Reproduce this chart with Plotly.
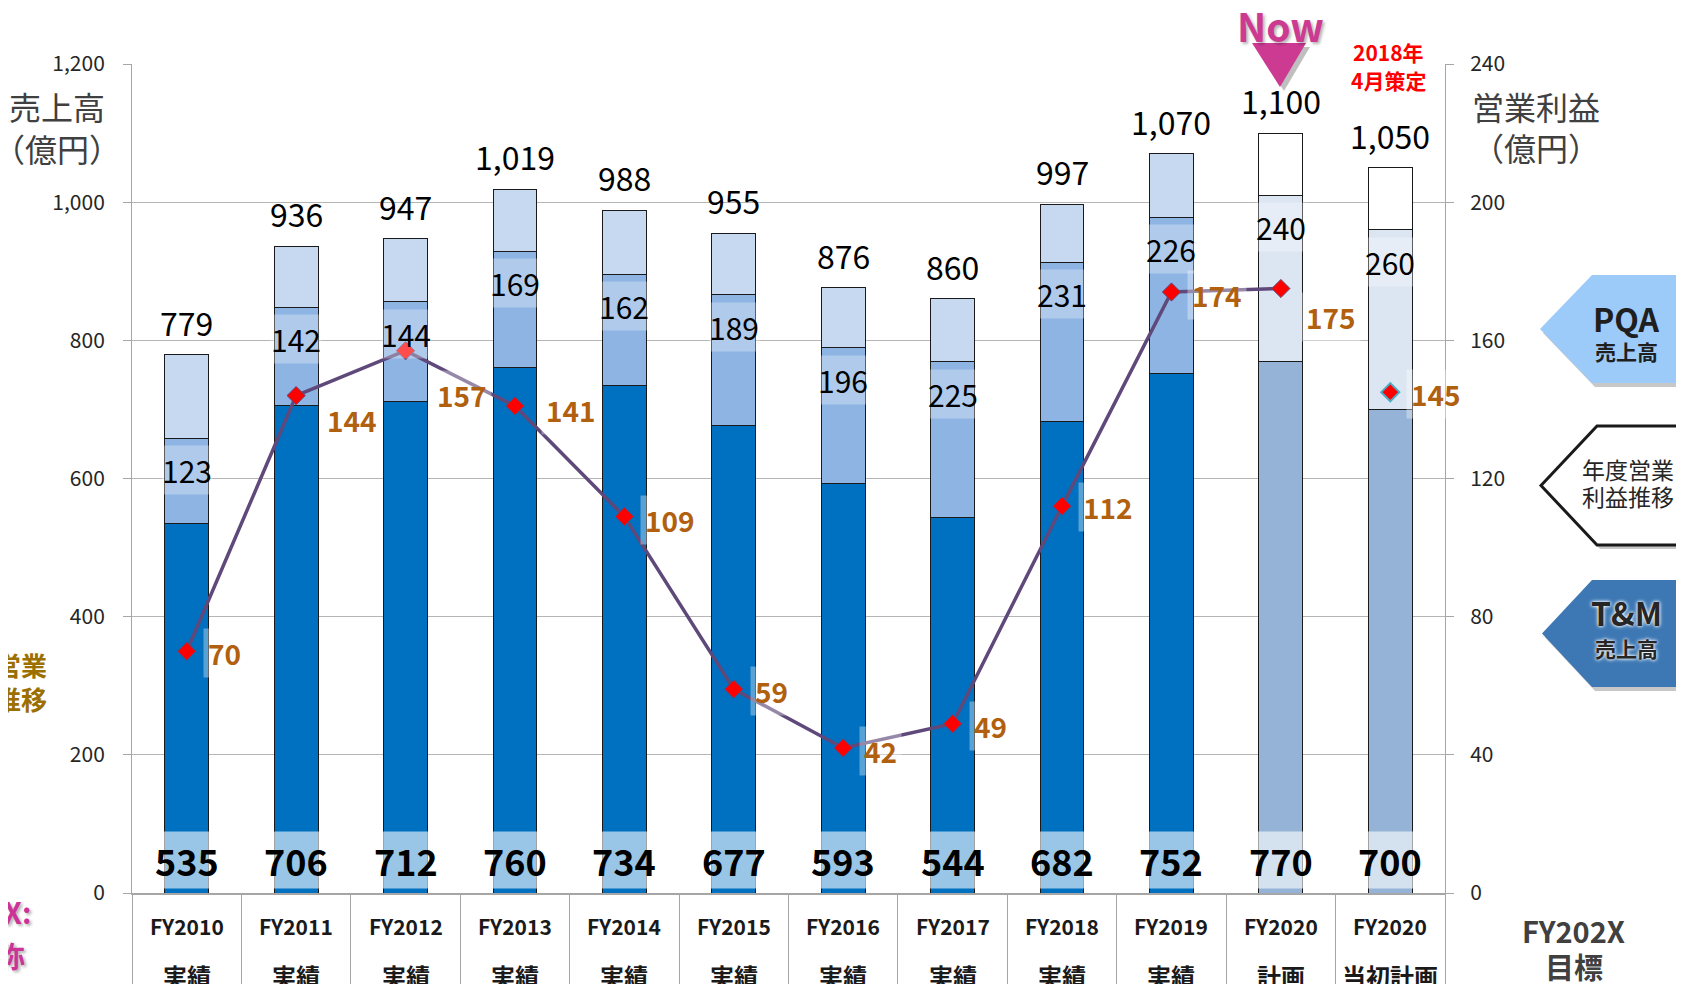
import plotly.graph_objects as go

# ---------------- data ----------------
years = ["FY2010", "FY2011", "FY2012", "FY2013", "FY2014", "FY2015",
         "FY2016", "FY2017", "FY2018", "FY2019", "FY2020", "FY2020"]
kinds = ["実績", "実績", "実績", "実績", "実績", "実績",
         "実績", "実績", "実績", "実績", "計画", "当初計画"]
tm_sales = [535, 706, 712, 760, 734, 677, 593, 544, 682, 752, 770, 700]
pqa_sales = [123, 142, 144, 169, 162, 189, 196, 225, 231, 226, 240, 260]
total_sales = [779, 936, 947, 1019, 988, 955, 876, 860, 997, 1070, 1100, 1050]
op_profit = [70, 144, 157, 141, 109, 59, 42, 49, 112, 174, 175]
op_profit_initial_plan = 145
left_ticks = [0, 200, 400, 600, 800, 1000, 1200]
right_ticks = [0, 40, 80, 120, 160, 200, 240]

# label offsets (style), per profit point: (xshift, yshift)
profit_label_shift = [(16, -2), (26, -24), (26, -44), (26, -4), (16, -3), (16, -2),
                      (16, -3), (16, -2), (16, -1), (16, -3), (20, -28)]

cats = [f"{y} {k}" for y, k in zip(years, kinds)]
other_sales = [t - a - b for t, a, b in zip(total_sales, tm_sales, pqa_sales)]
is_plan = [k != "実績" for k in kinds]

F = "Noto Sans CJK JP"
OFF = 8                      # page body margin
W, H = 1676, 976
L, R, T, B = 124, 239, 56, 91
PW, PH = W - L - R, H - T - B


def xp(px):                  # page pixel -> paper
    return (px - OFF - L) / PW


def yp(py):
    return (H - B - (py - OFF)) / PH


tm_colors = ["#95B3D7" if p else "#0070C0" for p in is_plan]
pqa_colors = ["#DCE6F2" if p else "#8EB4E3" for p in is_plan]
oth_colors = ["#FFFFFF" if p else "#C6D9F1" for p in is_plan]
outline = dict(color="#1A1A1A", width=1)

fig = go.Figure()
fig.add_bar(x=cats, y=tm_sales, marker=dict(color=tm_colors, line=outline), name="T&M")
fig.add_bar(x=cats, y=pqa_sales, marker=dict(color=pqa_colors, line=outline), name="PQA")
fig.add_bar(x=cats, y=other_sales, marker=dict(color=oth_colors, line=outline), name="その他")
fig.add_scatter(x=cats[:len(op_profit)], y=op_profit, yaxis="y2", mode="lines+markers",
                line=dict(color="#5F497A", width=3.5),
                marker=dict(symbol="diamond", size=14, color="#FF0000",
                            line=dict(color="#5F497A", width=1)),
                name="営業利益")
fig.add_scatter(x=[cats[-1]], y=[op_profit_initial_plan], yaxis="y2", mode="markers",
                marker=dict(symbol="diamond", size=14, color="#FF0000",
                            line=dict(color="#4BACC6", width=2)),
                name="当初計画")

ann = []
# totals above bars
for c, t in zip(cats, total_sales):
    ann.append(dict(x=c, y=t, xref="x", yref="y", text=f"{t:,}", showarrow=False,
                    xanchor="center", yanchor="middle", yshift=33,
                    font=dict(size=32, color="#000000", family=F)))
# PQA labels
for c, a, b in zip(cats, tm_sales, pqa_sales):
    ann.append(dict(x=c, y=a + b, xref="x", yref="y", text=f"{b}", showarrow=False,
                    xanchor="center", yanchor="middle", yshift=-32,
                    bgcolor="rgba(255,255,255,0.3)", height=48, borderpad=0,
                    font=dict(size=30, color="#000000", family=F)))
# T&M labels
for c, a in zip(cats, tm_sales):
    ann.append(dict(x=c, y=0, xref="x", yref="y", text=f"<b>{a}</b>", showarrow=False,
                    xanchor="center", yanchor="middle", yshift=33,
                    bgcolor="rgba(255,255,255,0.6)", height=56, borderpad=0,
                    font=dict(size=36, color="#000000", family=F)))
# profit labels
for c, v, (dx, dy) in zip(cats, op_profit, profit_label_shift):
    ann.append(dict(x=c, y=v, xref="x", yref="y2", text=f"<b>{v}</b>", showarrow=False,
                    xanchor="left", yanchor="middle", xshift=dx, yshift=dy,
                    bgcolor="rgba(255,255,255,0.35)", borderpad=4,
                    font=dict(size=28, color="#B0600E", family=F)))
ann.append(dict(x=cats[-1], y=op_profit_initial_plan, xref="x", yref="y2",
                text=f"<b>{op_profit_initial_plan}</b>", showarrow=False,
                xanchor="left", yanchor="middle", xshift=16, yshift=-2,
                bgcolor="rgba(255,255,255,0.35)", borderpad=4,
                font=dict(size=28, color="#B0600E", family=F)))


def pann(x, y, text, size, color, anchor="center", shadow=None):
    f = dict(size=size, color=color, family=F)
    if shadow:
        f["shadow"] = shadow
    return dict(x=xp(x), y=yp(y), xref="paper", yref="paper", text=text, showarrow=False,
                xanchor=anchor, yanchor="middle", font=f)


# category labels
for c, y, k in zip(cats, years, kinds):
    ann.append(dict(x=c, y=yp(926), xref="x", yref="paper", text=f"<b>{y}</b>",
                    showarrow=False, xanchor="center", yanchor="middle",
                    font=dict(size=21, color="#1A1A1A", family=F)))
    ann.append(dict(x=c, y=yp(975), xref="x", yref="paper", text=f"<b>{k}</b>",
                    showarrow=False, xanchor="center", yanchor="middle",
                    font=dict(size=24, color="#1A1A1A", family=F)))

# axis titles
ann += [
    pann(57, 106, "売上高", 32, "#404040"),
    pann(57, 148, "（億円）", 32, "#404040"),
    pann(1536, 106, "営業利益", 32, "#404040"),
    pann(1536, 147, "（億円）", 32, "#404040"),
]

# Now marker + note
glow = "0 0 4px white, 0 0 3px white"
sh = "2px 2px 3px rgba(0,0,0,0.3)"
ann += [
    pann(1280, 25, "<b>Now</b>", 39, "#CC3A92", shadow=sh),
    pann(1388, 52, "<b>2018年</b>", 21, "#FF0000"),
    pann(1388, 80, "<b>4月策定</b>", 21, "#FF0000"),
]

# right-side callouts text
ann += [
    pann(1627, 318, "<b>PQA</b>", 32, "#1F1F1F"),
    pann(1627, 351, "<b>売上高</b>", 21, "#1F1F1F"),
    pann(1628, 469, "年度営業", 23, "#262626"),
    pann(1628, 496, "利益推移", 23, "#262626"),
    pann(1627, 612, "<b>T&M</b>", 32, "#262626", shadow=glow),
    pann(1627, 648, "<b>売上高</b>", 21, "#262626", shadow=glow),
    pann(1574, 930, "<b>FY202X</b>", 29, "#404040"),
    pann(1574, 966, "<b>目標</b>", 29, "#404040"),
]

# left edge (cut-off slide texts)
ann += [
    pann(49, 664, "<b>年度営業</b>", 26, "#9B6F00", anchor="right"),
    pann(49, 698, "<b>利益推移</b>", 26, "#9B6F00", anchor="right"),
    pann(33, 911, "<b>FY202X:</b>", 29, "#CC3399", anchor="right", shadow=sh),
    pann(27, 955, "<b>呼称</b>", 29, "#CC3399", anchor="right", shadow=sh),
]


def path(points):
    return "M " + " L ".join(f"{xp(a):.5f},{yp(b):.5f}" for a, b in points) + " Z"


def penta(x0, y0, y1, xv):
    ym = (y0 + y1) / 2
    return [(x0, ym), (xv, y0), (W + 20, y0), (W + 20, y1), (xv, y1)]


shapes = []
# Now triangle
tri = [(1252, 43), (1306, 43), (1280, 87)]
shapes.append(dict(type="path", xref="paper", yref="paper",
                   path=path([(a + 4, b + 4) for a, b in tri]),
                   fillcolor="rgba(0,0,0,0.25)", line=dict(width=0)))
shapes.append(dict(type="path", xref="paper", yref="paper", path=path(tri),
                   fillcolor="#CC3A92", line=dict(width=0)))
# callouts
for (pts, fill, lc, lw) in [
    (penta(1540, 275, 383, 1592), "#9DCBF9", "#9DCBF9", 0),
    (penta(1541, 426, 545, 1597), "#FFFFFF", "#1A1A1A", 3),
    (penta(1542, 580, 687, 1592), "#3D78B4", "#3D78B4", 0),
]:
    shapes.append(dict(type="path", xref="paper", yref="paper",
                       path=path([(a + 3, b + 4) for a, b in pts]),
                       fillcolor="rgba(0,0,0,0.22)", line=dict(width=0)))
    shapes.append(dict(type="path", xref="paper", yref="paper", path=path(pts),
                       fillcolor=fill, line=dict(color=lc, width=lw)))

fig.update_layout(
    width=W, height=H,
    margin=dict(l=L, r=R, t=T, b=B, autoexpand=False),
    barmode="stack", bargap=0.6, showlegend=False,
    plot_bgcolor="white", paper_bgcolor="white",
    font=dict(family=F, color="#262626"),
    xaxis=dict(type="category", showticklabels=False, ticks="outside", tickson="boundaries",
               ticklen=96, tickcolor="#A6A6A6", tickwidth=1, showline=True, automargin=False,
               linecolor="#A6A6A6", linewidth=2, showgrid=False, range=[-0.5, 11.5]),
    yaxis=dict(range=[0, 1200], tickvals=left_ticks, tickformat=",", showgrid=True,
               gridcolor="#B5B5B5", gridwidth=1, ticks="outside", ticklen=8, automargin=False,
               tickcolor="#A6A6A6", showline=True, linecolor="#A6A6A6", zeroline=False,
               tickfont=dict(size=21, color="#262626"), ticklabelstandoff=14),
    yaxis2=dict(range=[0, 240], tickvals=right_ticks, overlaying="y", side="right",
                showgrid=False, ticks="outside", ticklen=8, tickcolor="#A6A6A6", automargin=False,
                showline=True, linecolor="#A6A6A6", zeroline=False,
                tickfont=dict(size=21, color="#262626"), ticklabelstandoff=12),
    annotations=ann,
    shapes=shapes,
)

fig.write_html("out.html")
